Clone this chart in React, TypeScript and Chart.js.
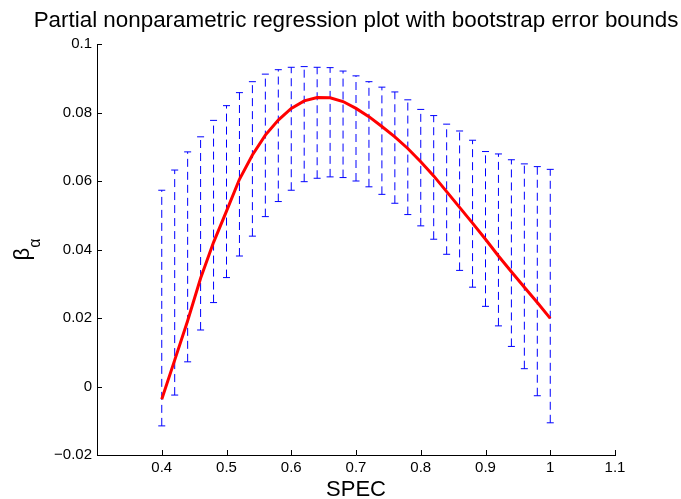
import React, { useEffect, useRef } from 'react';
import { Chart, registerables } from 'chart.js';

Chart.register(...registerables);

const titleText = 'Partial nonparametric regression plot with bootstrap error bounds';
const xLabel = 'SPEC';
const yLabelMain = 'β';
const yLabelSub = 'α';

const xValues = [
  0.40, 0.42, 0.44, 0.46, 0.48, 0.50, 0.52, 0.54, 0.56, 0.58,
  0.60, 0.62, 0.64, 0.66, 0.68, 0.70, 0.72, 0.74, 0.76, 0.78,
  0.80, 0.82, 0.84, 0.86, 0.88, 0.90, 0.92, 0.94, 0.96, 0.98, 1.00,
];

const fitValues = [
  -0.0037, 0.0077, 0.0192, 0.0316, 0.0421, 0.0512, 0.0605, 0.0676, 0.0734, 0.0778,
  0.0812, 0.0834, 0.0844, 0.0843, 0.0832, 0.0812, 0.0788, 0.0759, 0.0729, 0.0695,
  0.0656, 0.0615, 0.0569, 0.0523, 0.0477, 0.0430, 0.0381, 0.0335, 0.0290, 0.0245, 0.0199,
];

const upperValues = [
  0.0573, 0.0632, 0.0685, 0.0729, 0.0777, 0.0820, 0.0858, 0.0890, 0.0912, 0.0925,
  0.0932, 0.0934, 0.0932, 0.0931, 0.0921, 0.0907, 0.0890, 0.0874, 0.0860, 0.0837,
  0.0809, 0.0791, 0.0766, 0.0746, 0.0719, 0.0686, 0.0679, 0.0662, 0.0650, 0.0642, 0.0634,
];

const lowerValues = [
  -0.0115, -0.0025, 0.0072, 0.0165, 0.0245, 0.0318, 0.0381, 0.0439, 0.0496, 0.0540,
  0.0573, 0.0598, 0.0608, 0.0612, 0.0610, 0.0600, 0.0583, 0.0561, 0.0535, 0.0502,
  0.0469, 0.0430, 0.0386, 0.0339, 0.0290, 0.0234, 0.0177, 0.0117, 0.0052, -0.0027, -0.0106,
];

const xTickValues = [0.4, 0.5, 0.6, 0.7, 0.8, 0.9, 1.0, 1.1];
const xTickLabels = ['0.4', '0.5', '0.6', '0.7', '0.8', '0.9', '1', '1.1'];
const yTickValues = [-0.02, 0, 0.02, 0.04, 0.06, 0.08, 0.1];
const yTickLabels = ['\u22120.02', '0', '0.02', '0.04', '0.06', '0.08', '0.1'];

const FONT = "'Liberation Sans', Arial, Helvetica, sans-serif";

const errorBarPlugin = {
  id: 'errorBars',
  beforeDatasetsDraw(chart: any) {
    const { ctx, scales } = chart;
    const xs = scales.x;
    const ys = scales.y;
    ctx.save();
    ctx.strokeStyle = '#0000ff';
    ctx.lineWidth = 1;
    for (let i = 0; i < xValues.length; i++) {
      const px = xs.getPixelForValue(xValues[i]);
      const yl = ys.getPixelForValue(lowerValues[i]);
      const yu = ys.getPixelForValue(upperValues[i]);
      ctx.setLineDash([8, 5]);
      ctx.beginPath();
      ctx.moveTo(px, yl);
      ctx.lineTo(px, yu);
      ctx.stroke();
      ctx.setLineDash([]);
      ctx.beginPath();
      ctx.moveTo(px - 3.5, yu);
      ctx.lineTo(px + 3.5, yu);
      ctx.moveTo(px - 3.5, yl);
      ctx.lineTo(px + 3.5, yl);
      ctx.stroke();
    }
    ctx.restore();
  },
};

const axisDecorPlugin = {
  id: 'axisDecor',
  afterDraw(chart: any) {
    const { ctx, scales, chartArea } = chart;
    const xs = scales.x;
    const ys = scales.y;
    ctx.save();
    ctx.strokeStyle = '#000';
    ctx.lineWidth = 1;
    ctx.beginPath();
    xTickValues.forEach((v) => {
      const px = Math.round(xs.getPixelForValue(v)) + 0.5;
      ctx.moveTo(px, chartArea.bottom);
      ctx.lineTo(px, chartArea.bottom - 5);
    });
    yTickValues.forEach((v) => {
      const py = Math.round(ys.getPixelForValue(v)) + 0.5;
      ctx.moveTo(chartArea.left, py);
      ctx.lineTo(chartArea.left + 5, py);
    });
    ctx.stroke();

    // main title, centred over the plot area
    ctx.fillStyle = '#000';
    ctx.font = `22.4px ${FONT}`;
    ctx.textAlign = 'center';
    ctx.textBaseline = 'middle';
    ctx.fillText(titleText, (chartArea.left + chartArea.right) / 2, 21);

    // y-axis label: beta with subscript alpha
    const cy = (chartArea.top + chartArea.bottom) / 2;
    ctx.translate(28.5, cy);
    ctx.rotate(-Math.PI / 2);
    ctx.textBaseline = 'alphabetic';
    ctx.textAlign = 'left';
    ctx.font = `22px ${FONT}`;
    const wb = ctx.measureText(yLabelMain).width;
    ctx.font = `16px ${FONT}`;
    const wa = ctx.measureText(yLabelSub).width;
    const start = -(wb + wa) / 2;
    ctx.font = `22px ${FONT}`;
    ctx.fillText(yLabelMain, start, 0);
    ctx.font = `16px ${FONT}`;
    ctx.fillText(yLabelSub, start + wb, 11.5);
    ctx.restore();
  },
};

export default function App() {
  const canvasRef = useRef<HTMLCanvasElement | null>(null);

  useEffect(() => {
    const canvas = canvasRef.current;
    if (!canvas) return;
    const chart = new Chart(canvas, {
      type: 'line',
      data: {
        datasets: [
          {
            data: xValues.map((x, i) => ({ x, y: fitValues[i] })),
            borderColor: '#ff0000',
            borderWidth: 3,
            pointRadius: 0,
            tension: 0,
            fill: false,
          },
        ],
      },
      options: {
        animation: false,
        responsive: false,
        devicePixelRatio: 1,
        layout: { padding: { left: 0, right: 66, top: 44, bottom: 0 } },
        plugins: {
          legend: { display: false },
          tooltip: { enabled: false },
          title: { display: false },
        },
        scales: {
          x: {
            type: 'linear',
            min: 0.3,
            max: 1.1,
            grid: { display: false, drawTicks: false },
            border: { display: true, color: '#000', width: 1 },
            afterBuildTicks: (s: any) => {
              s.ticks = xTickValues.map((v) => ({ value: v }));
            },
            afterFit: (s: any) => {
              s.height = 44;
            },
            ticks: {
              autoSkip: false,
              maxRotation: 0,
              padding: 4,
              color: '#000',
              font: { family: FONT, size: 15 },
              callback: (_v: any, i: number) => xTickLabels[i],
            },
            title: {
              display: true,
              text: xLabel,
              color: '#000',
              font: { family: FONT, size: 22, lineHeight: 1 },
              padding: { top: 0, bottom: -2 },
            },
          },
          y: {
            type: 'linear',
            min: -0.02,
            max: 0.1,
            grid: { display: false, drawTicks: false },
            border: { display: true, color: '#000', width: 1 },
            afterBuildTicks: (s: any) => {
              s.ticks = yTickValues.map((v) => ({ value: v }));
            },
            afterFit: (s: any) => {
              s.width = 97;
            },
            ticks: {
              autoSkip: false,
              padding: 5,
              color: '#000',
              font: { family: FONT, size: 15 },
              callback: (_v: any, i: number) => yTickLabels[i],
            },
          },
        },
      } as any,
      plugins: [errorBarPlugin, axisDecorPlugin],
    });
    return () => chart.destroy();
  }, []);

  return (
    <div style={{ position: 'fixed', left: 0, top: 0, width: 681, height: 499, background: '#fff' }}>
      <canvas ref={canvasRef} width={681} height={499} style={{ display: 'block' }} />
    </div>
  );
}
